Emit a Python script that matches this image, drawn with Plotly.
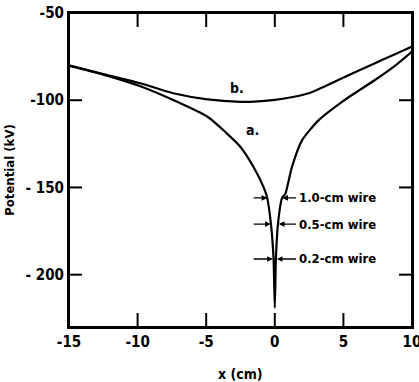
import plotly.graph_objects as go

# Curve a: potential along x (left branch -> wire at x=0 -> right branch)
a_x = [-15, -12.5, -9.8, -7.4, -4.9, -3.5, -2.5, -1.55, -0.82, -0.57, -0.28, -0.09, 0.0,
       0.08, 0.23, 0.53, 0.77, 1.25, 1.99, 3.2, 4.9, 7.3, 8.8, 10]
a_y = [-80.3, -85.3, -92.0, -99.9, -109.5, -119.0, -126.8, -138.3, -149.8, -155.5, -171.0, -191.0, -219.0,
       -191.0, -171.0, -156.0, -153.6, -138.3, -122.9, -111.4, -100.9, -88.4, -80.0, -72.1]

# Curve b
b_x = [-15, -12.5, -9.8, -7.4, -4.9, -2.5, -1.5, 0.0, 1.2, 2.47, 4.9, 7.3, 8.8, 10]
b_y = [-80.0, -85.0, -90.3, -96.0, -99.5, -100.9, -100.8, -99.8, -98.3, -96.0, -87.4, -78.8, -73.5, -69.2]

# Wire markers
wire_labels = ["1.0-cm wire", "0.5-cm wire", "0.2-cm wire"]
wire_potential = [-156, -171, -191]
wire_radius = [0.5, 0.25, 0.1]

x_ticks = [-15, -10, -5, 0, 5, 10]
x_ticktext = ["-15", "-10", "-5", "0", "5", "10"]
y_ticks = [-50, -100, -150, -200]
y_ticktext = ["-50", "-100", "- 150", "- 200"]

X_RANGE = [-15, 10]
Y_RANGE = [-230, -50]

FONT = "Liberation Sans Narrow, Arial Narrow, DejaVu Sans Condensed, Liberation Sans, sans-serif"
W, H = 419, 382
ML, MR, MT, MB = 69, 7, 13, 55
PW, PH = W - ML - MR, H - MT - MB
XTL, YTL = 14, 13  # tick lengths (px)

fig = go.Figure()
fig.add_trace(go.Scatter(x=a_x, y=a_y, mode="lines",
                         line=dict(color="black", width=2.2, shape="spline", smoothing=0.6),
                         showlegend=False, hoverinfo="skip"))
fig.add_trace(go.Scatter(x=b_x, y=b_y, mode="lines",
                         line=dict(color="black", width=2.2, shape="spline", smoothing=0.8),
                         showlegend=False, hoverinfo="skip"))

# inward ticks on all four sides, built from the tick arrays (lengths converted px -> data)
dy = XTL * (Y_RANGE[1] - Y_RANGE[0]) / PH
dx = YTL * (X_RANGE[1] - X_RANGE[0]) / PW
tx, ty = [], []
for t in x_ticks:
    if X_RANGE[0] < t < X_RANGE[1]:
        tx += [t, t, None, t, t, None]
        ty += [Y_RANGE[0], Y_RANGE[0] + dy, None, Y_RANGE[1], Y_RANGE[1] - dy, None]
for t in y_ticks:
    if Y_RANGE[0] < t < Y_RANGE[1]:
        tx += [X_RANGE[0], X_RANGE[0] + dx, None, X_RANGE[1], X_RANGE[1] - dx, None]
        ty += [t, t, None, t, t, None]
fig.add_trace(go.Scatter(x=tx, y=ty, mode="lines", line=dict(color="black", width=2),
                         showlegend=False, hoverinfo="skip", connectgaps=False))

annotations = []
for lab, pot, r in zip(wire_labels, wire_potential, wire_radius):
    annotations.append(dict(x=-r - 0.05, y=pot, ax=-1.65, ay=pot, axref="x", ayref="y",
                            xref="x", yref="y", text="", showarrow=True,
                            arrowhead=2, arrowsize=0.8, arrowwidth=1.4, arrowcolor="black"))
    annotations.append(dict(x=r + 0.05, y=pot, ax=1.65, ay=pot, axref="x", ayref="y",
                            xref="x", yref="y", text="", showarrow=True,
                            arrowhead=2, arrowsize=0.8, arrowwidth=1.4, arrowcolor="black"))
    annotations.append(dict(x=1.65, y=pot, xref="x", yref="y", text=lab, showarrow=False,
                            xanchor="left", yanchor="middle",
                            font=dict(family=FONT, size=13, color="black", weight="bold")))

annotations.append(dict(x=-2.75, y=-93, xref="x", yref="y", text="b.", showarrow=False,
                        font=dict(family=FONT, size=14, color="black", weight="bold")))
annotations.append(dict(x=-1.6, y=-117, xref="x", yref="y", text="a.", showarrow=False,
                        font=dict(family=FONT, size=14, color="black", weight="bold")))
annotations.append(dict(x=0.5, y=-0.15, xref="paper", yref="paper", text="x (cm)", showarrow=False,
                        yanchor="middle",
                        font=dict(family=FONT, size=14, color="black", weight="bold")))

shapes = [dict(type="rect", xref="paper", yref="paper", x0=0, x1=1, y0=0, y1=1,
               line=dict(color="black", width=2), layer="above")]

fig.update_layout(
    width=W, height=H,
    margin=dict(l=ML, r=MR, t=MT, b=MB, pad=0),
    paper_bgcolor="white", plot_bgcolor="white",
    annotations=annotations, shapes=shapes,
    font=dict(family=FONT, color="black"),
)
fig.update_xaxes(range=X_RANGE, tickvals=x_ticks, ticktext=x_ticktext,
                 ticks="", showline=True, linecolor="black", linewidth=2, mirror=True,
                 showgrid=False, zeroline=False, automargin=False, ticklabeloverflow="allow",
                 tickfont=dict(family=FONT, size=15, color="black", weight="bold"))
fig.update_yaxes(range=Y_RANGE, tickvals=y_ticks, ticktext=y_ticktext,
                 ticks="", showline=True, linecolor="black", linewidth=2, mirror=True,
                 showgrid=False, zeroline=False, automargin=False, ticklabeloverflow="allow",
                 tickfont=dict(family=FONT, size=15, color="black", weight="bold"),
                 title=dict(text="Potential (kV)", standoff=8,
                            font=dict(family=FONT, size=13, color="black", weight="bold")))

fig.write_html("out.html", config={"displayModeBar": False},
               post_script="document.body.style.margin='0';")
